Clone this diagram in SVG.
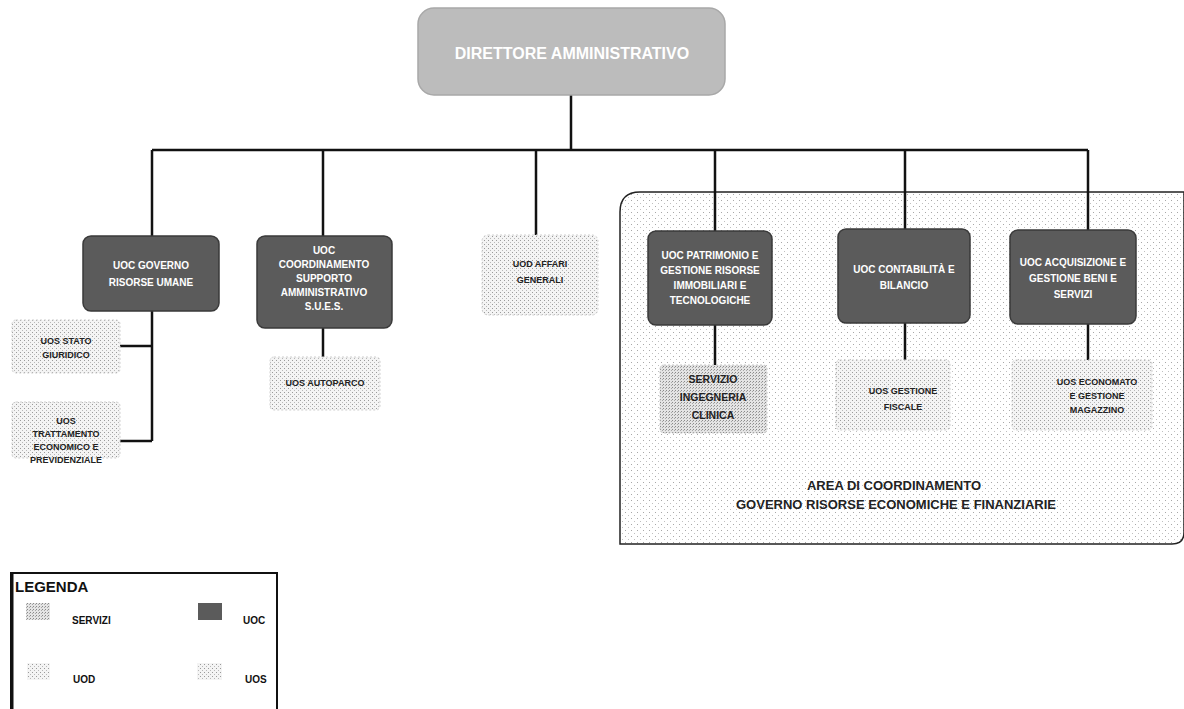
<svg xmlns="http://www.w3.org/2000/svg" width="1184" height="709" viewBox="0 0 1184 709">
<defs>
<pattern id="dots" width="6" height="6" patternUnits="userSpaceOnUse">
<rect width="6" height="6" fill="#ffffff"/>
<rect x="1" y="2" width="1" height="1" fill="#a8a8a8"/>
<rect x="4" y="5" width="1" height="1" fill="#c0c0c0"/>
</pattern>
<pattern id="light" width="4" height="4" patternUnits="userSpaceOnUse">
<rect width="4" height="4" fill="#f4f4f4"/>
<rect x="0" y="0" width="1" height="1" fill="#9a9a9a"/>
<rect x="2" y="2" width="1" height="1" fill="#b8b8b8"/>
</pattern>
<pattern id="mid" width="3" height="3" patternUnits="userSpaceOnUse">
<rect width="3" height="3" fill="#e4e4e4"/>
<rect x="0" y="0" width="1" height="1" fill="#8a8a8a"/>
<rect x="2" y="1" width="1" height="1" fill="#a8a8a8"/>
</pattern>
</defs>
<style>
.t{font-family:"Liberation Sans",Arial,sans-serif;font-weight:bold;text-anchor:middle}
.w{fill:#ffffff;font-size:10px}
.d{fill:#222222;font-size:9px}
.uoc{fill:#5b5b5b;stroke:#3a3a3a;stroke-width:1.5}
.uos{fill:url(#light);stroke:#cfcfcf;stroke-width:1;stroke-dasharray:2 2}
.c{fill:none;stroke:#111111;stroke-width:2.5}
.lg{font-family:"Liberation Sans",Arial,sans-serif;font-weight:bold;fill:#111;font-size:10px}
</style>
<rect width="1184" height="709" fill="#ffffff"/>

<g id="area">
<path d="M620,544 L620,212 Q620,192 640,192 L1184,192 L1184,532 Q1184,544 1172,544 Z" fill="url(#dots)" stroke="#222" stroke-width="1.5"/>
<text class="t" x="894" y="490" font-size="13" fill="#222">AREA DI COORDINAMENTO</text>
<text class="t" x="896" y="509" font-size="13" fill="#222">GOVERNO RISORSE ECONOMICHE E FINANZIARIE</text>
</g>

<g id="connectors">
<path class="c" d="M571,95 V150 M152,150 H1088 M152,150 V236 M323,150 V236 M536,150 V235 M715,150 V231 M905,150 V229 M1088,150 V230"/>
<path class="c" d="M152,311 V441 M120,346 H152 M120,441 H152"/>
<path class="c" d="M323,328 V357"/>
<path class="c" d="M715,325 V365 M905,323 V360 M1088,324 V360"/>
</g>

<g id="direttore">
<rect x="418" y="8" width="307" height="87" rx="16" fill="#bcbcbc" stroke="#a8a8a8" stroke-width="1.5"/>
<text class="t" x="572" y="59" font-size="16" fill="#ffffff">DIRETTORE AMMINISTRATIVO</text>
</g>

<g id="uoc-governo">
<rect class="uoc" x="83" y="236" width="136" height="75" rx="8"/>
<text class="t w" x="151" y="269">UOC GOVERNO</text>
<text class="t w" x="151" y="286">RISORSE UMANE</text>
</g>

<g id="uoc-coordinamento">
<rect class="uoc" x="257" y="236" width="135" height="92" rx="8"/>
<text class="t w" x="324" y="254">UOC</text>
<text class="t w" x="324" y="268">COORDINAMENTO</text>
<text class="t w" x="324" y="282">SUPPORTO</text>
<text class="t w" x="324" y="296">AMMINISTRATIVO</text>
<text class="t w" x="324" y="310">S.U.E.S.</text>
</g>

<g id="uod-affari">
<rect x="482" y="235" width="116" height="80" rx="6" fill="url(#light)" stroke="#d0d0d0" stroke-dasharray="2 2"/>
<text class="t d" x="540" y="267" font-size="9.5">UOD AFFARI</text>
<text class="t d" x="540" y="283" font-size="9.5">GENERALI</text>
</g>

<g id="uoc-patrimonio">
<rect class="uoc" x="648" y="231" width="124" height="94" rx="8"/>
<text class="t w" x="710" y="259" font-size="9.5">UOC PATRIMONIO E</text>
<text class="t w" x="710" y="274" font-size="9.5">GESTIONE RISORSE</text>
<text class="t w" x="710" y="289" font-size="9.5">IMMOBILIARI E</text>
<text class="t w" x="710" y="304" font-size="9.5">TECNOLOGICHE</text>
</g>

<g id="uoc-contabilita">
<rect class="uoc" x="838" y="229" width="132" height="94" rx="8"/>
<text class="t w" x="904" y="273" font-size="9.5">UOC CONTABILITÀ  E</text>
<text class="t w" x="904" y="289" font-size="9.5">BILANCIO</text>
</g>

<g id="uoc-acquisizione">
<rect class="uoc" x="1010" y="230" width="126" height="94" rx="8"/>
<text class="t w" x="1073" y="266" font-size="9.5">UOC ACQUISIZIONE E</text>
<text class="t w" x="1073" y="282" font-size="9.5">GESTIONE BENI E</text>
<text class="t w" x="1073" y="298" font-size="9.5">SERVIZI</text>
</g>

<g id="servizio-ingegneria">
<rect x="660" y="365" width="107" height="68" rx="4" fill="url(#mid)" stroke="#c4c4c4" stroke-dasharray="2 2"/>
<text class="t" x="713" y="383" font-size="10.5" fill="#222">SERVIZIO</text>
<text class="t" x="713" y="401" font-size="10.5" fill="#222">INGEGNERIA</text>
<text class="t" x="713" y="419" font-size="10.5" fill="#222">CLINICA</text>
</g>

<g id="uos-fiscale">
<rect class="uos" x="836" y="360" width="114" height="70" rx="4"/>
<text class="t d" x="903" y="394" font-size="8">UOS GESTIONE</text>
<text class="t d" x="903" y="410" font-size="8">FISCALE</text>
</g>

<g id="uos-economato">
<rect class="uos" x="1012" y="360" width="140" height="70" rx="4"/>
<text class="t d" x="1097" y="385" font-size="8">UOS ECONOMATO</text>
<text class="t d" x="1097" y="399" font-size="8">E GESTIONE</text>
<text class="t d" x="1097" y="413" font-size="8">MAGAZZINO</text>
</g>

<g id="uos-stato">
<rect class="uos" x="12" y="320" width="108" height="53" rx="4"/>
<text class="t d" x="66" y="344" font-size="8.5">UOS STATO</text>
<text class="t d" x="66" y="358" font-size="8.5">GIURIDICO</text>
</g>

<g id="uos-trattamento">
<rect class="uos" x="12" y="402" width="108" height="56" rx="4"/>
<text class="t d" x="66" y="424" font-size="8.5">UOS</text>
<text class="t d" x="66" y="437" font-size="8.5">TRATTAMENTO</text>
<text class="t d" x="66" y="450" font-size="8.5">ECONOMICO E</text>
<text class="t d" x="66" y="463" font-size="8.5">PREVIDENZIALE</text>
</g>

<g id="uos-autoparco">
<rect class="uos" x="270" y="357" width="110" height="53" rx="4"/>
<text class="t d" x="325" y="386" font-size="8.5">UOS AUTOPARCO</text>
</g>

<g id="legenda">
<rect x="11" y="573" width="266" height="140" fill="#ffffff" stroke="#111" stroke-width="2"/>
<line x1="12" y1="573" x2="12" y2="709" stroke="#111" stroke-width="3"/>
<text x="15" y="592" font-family="Liberation Sans,Arial,sans-serif" font-weight="bold" font-size="15" fill="#111">LEGENDA</text>
<rect x="26" y="603" width="24" height="17" fill="url(#mid)"/>
<text class="lg" x="72" y="624">SERVIZI</text>
<rect x="198" y="603" width="24" height="17" fill="#5b5b5b"/>
<text class="lg" x="243" y="624">UOC</text>
<rect x="27" y="663" width="23" height="17" fill="url(#light)"/>
<text class="lg" x="73" y="683">UOD</text>
<rect x="197" y="663" width="25" height="17" fill="url(#light)"/>
<text class="lg" x="245" y="683">UOS</text>
</g>
</svg>
